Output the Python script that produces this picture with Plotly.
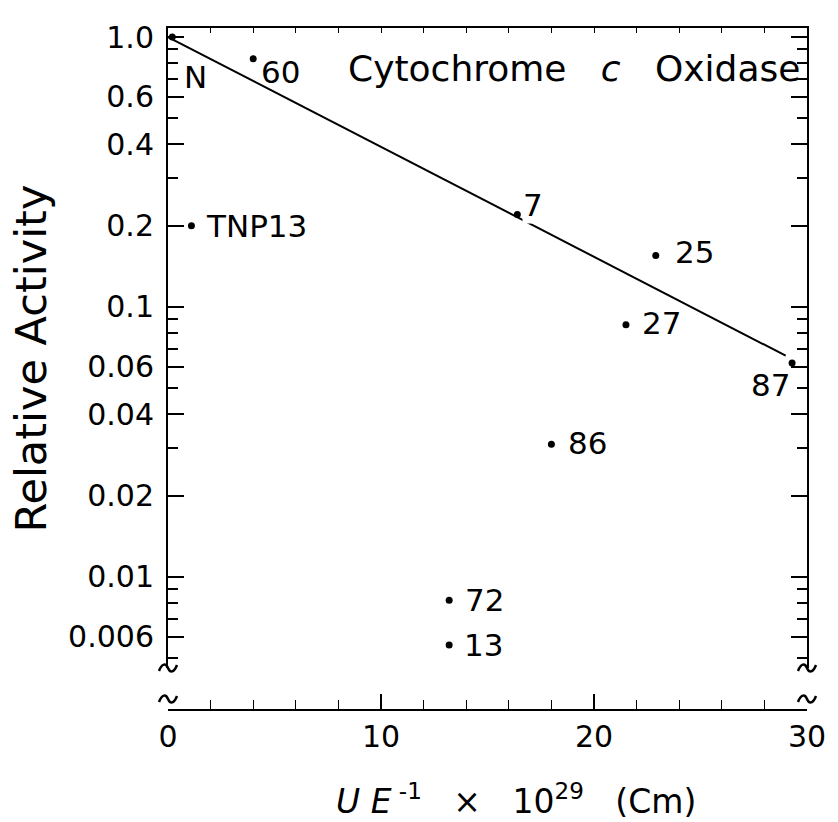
import numpy as np
import plotly.graph_objects as go

# ---- data ----
point_labels = ["N", "60", "TNP13", "7", "25", "27", "87", "86", "72", "13"]
x_vals = [0.2, 4.0, 1.1, 16.4, 22.9, 21.5, 29.3, 18.0, 13.2, 13.2]
y_vals = [1.0, 0.83, 0.20, 0.22, 0.155, 0.086, 0.062, 0.031, 0.0082, 0.0056]

fit_x = [0.0, 29.0]
fit_y = [1.0, 0.066]

y_tick_vals = [1.0, 0.6, 0.4, 0.2, 0.1, 0.06, 0.04, 0.02, 0.01, 0.006]
y_tick_text = ["1.0", "0.6", "0.4", "0.2", "0.1", "0.06", "0.04", "0.02", "0.01", "0.006"]
y_minor_vals = [0.9, 0.8, 0.7, 0.5, 0.3, 0.09, 0.08, 0.07, 0.05, 0.03,
                0.009, 0.008, 0.007, 0.005]
x_tick_vals = [0, 10, 20, 30]
x_minor_vals = [2, 4, 6, 8, 12, 14, 16, 18, 22, 24, 26, 28]
x_top_vals = list(range(0, 31, 2))

title_text = "Cytochrome\u00a0\u00a0 <i>c</i>\u00a0\u00a0 Oxidase"
x_title = "<i>U\u00a0E</i><sup> -1</sup>\u00a0\u00a0 \u00d7\u00a0\u00a0 10<sup>29</sup>\u00a0\u00a0 (Cm)"
y_title = "Relative Activity"

# ---- style ----
FONT = "DejaVu Sans"
W, H = 838, 822
ML, MR, MT, MB = 168, 24, 28, 112
y_range = [np.log10(0.0046), np.log10(1.08)]
y_dom_bottom = 42 / (H - MT - MB)
# label offsets (pixels): xanchor, xshift, yshift
label_style = [("left", 11, -40), ("left", 7, -13), ("left", 14, 0), ("left", 5, 10),
               ("left", 18, 4), ("left", 15, 2), ("right", -1, -22), ("left", 16, 1),
               ("left", 15, 0), ("left", 14, 0)]

fig = go.Figure()
fig.add_trace(go.Scatter(x=fit_x, y=fit_y, mode="lines",
                         line=dict(color="black", width=2), hoverinfo="skip",
                         showlegend=False))
fig.add_trace(go.Scatter(x=x_vals, y=y_vals, mode="markers",
                         marker=dict(color="black", size=7), showlegend=False))
# dummy trace for top axis
fig.add_trace(go.Scatter(x=[None], y=[None], xaxis="x2", yaxis="y", showlegend=False))

for lab, xv, yv, (anc, dx, dy) in zip(point_labels, x_vals, y_vals, label_style):
    fig.add_annotation(x=xv, y=np.log10(yv), text=lab, showarrow=False,
                       xanchor=anc, yanchor="middle", xshift=dx, yshift=dy,
                       font=dict(family=FONT, size=31, color="black"),
                       bgcolor="white" if lab == "7" else None, borderpad=0)

fig.add_annotation(xref="paper", yref="paper", x=0.992, y=0.94, text=title_text,
                   showarrow=False, xanchor="right", yanchor="middle",
                   font=dict(family=FONT, size=36, color="black"))
fig.add_annotation(xref="paper", yref="paper", x=0.545, y=-90 / (H - MT - MB),
                   text=x_title, showarrow=False, xanchor="center", yanchor="middle",
                   font=dict(family=FONT, size=33, color="black"))
fig.add_annotation(xref="paper", yref="paper", x=-138 / (W - ML - MR),
                   y=(H - MB - 358) / (H - MT - MB), text=y_title, textangle=-90,
                   showarrow=False, xanchor="center", yanchor="middle",
                   font=dict(family=FONT, size=43, color="black"))

# axis-break tildes
tilde = "M -9,-3 C -6,5 -2,5 0,0 C 2,-5 6,-5 9,3"
brk_low = 11 / (H - MT - MB)
for xa in (0, 1):
    for ya in (y_dom_bottom, brk_low):
        fig.add_shape(type="path", path=tilde, xref="paper", yref="paper",
                      xsizemode="pixel", ysizemode="pixel", xanchor=xa, yanchor=ya,
                      line=dict(color="black", width=2.5))

fig.update_layout(
    width=W, height=H, autosize=False,
    margin=dict(l=ML, r=MR, t=MT, b=MB),
    paper_bgcolor="white", plot_bgcolor="white",
    font=dict(family=FONT, color="black"),
    xaxis=dict(range=[0, 30], anchor="free", position=0, domain=[0, 1],
               showline=True, linecolor="black", linewidth=2,
               showgrid=False, zeroline=False,
               tickmode="array", tickvals=x_tick_vals,
               ticktext=[str(v) for v in x_tick_vals],
               ticks="inside", ticklen=15, tickwidth=1.5, tickcolor="black",
               tickfont=dict(family=FONT, size=30),
               minor=dict(tickvals=x_minor_vals, ticks="inside", ticklen=9,
                          tickwidth=1.2, tickcolor="black", showgrid=False)),
    xaxis2=dict(range=[0, 30], overlaying="x", side="top", anchor="y",
                showline=True, linecolor="black", linewidth=2,
                showgrid=False, zeroline=False, showticklabels=False,
                tickmode="array", tickvals=x_top_vals,
                ticks="inside", ticklen=5, tickwidth=1, tickcolor="black"),
    yaxis=dict(type="log", range=y_range, domain=[y_dom_bottom, 1],
               showline=True, linecolor="black", linewidth=2, mirror="ticks",
               showgrid=False, zeroline=False,
               tickmode="array", tickvals=y_tick_vals, ticktext=y_tick_text,
               ticks="inside", ticklen=16, tickwidth=1.5, tickcolor="black",
               ticklabelstandoff=6,
               tickfont=dict(family=FONT, size=30),
               minor=dict(tickvals=y_minor_vals, ticks="inside", ticklen=10,
                          tickwidth=1.5, tickcolor="black", showgrid=False)),
)

fig.write_html("out.html", config={"displayModeBar": False},
               post_script="document.body.style.margin='0';document.body.style.overflow='hidden';")
